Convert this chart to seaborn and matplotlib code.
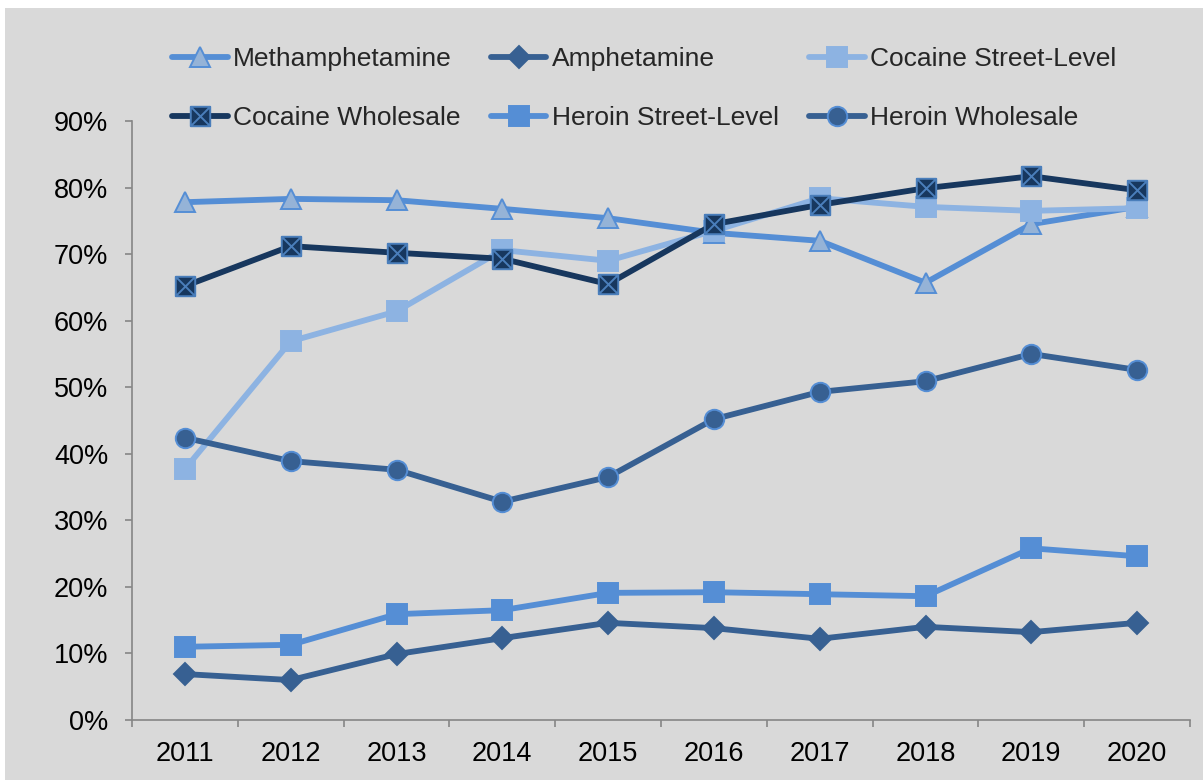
import numpy as np
import pandas as pd
import matplotlib
matplotlib.use("Agg")
import matplotlib.pyplot as plt
from matplotlib.path import Path
from matplotlib.patches import Rectangle
from matplotlib.ticker import FuncFormatter, FixedLocator
import seaborn as sns

# ---- data -------------------------------------------------------------
years = [2011, 2012, 2013, 2014, 2015, 2016, 2017, 2018, 2019, 2020]
methamphetamine = [77.8, 78.3, 78.1, 76.8, 75.4, 73.2, 72.0, 65.7, 74.5, 77.1]
amphetamine = [6.9, 6.0, 9.9, 12.3, 14.6, 13.8, 12.2, 14.0, 13.2, 14.6]
cocaine_street = [37.7, 56.9, 61.4, 70.6, 69.0, 73.5, 78.4, 77.1, 76.5, 76.9]
cocaine_wholesale = [65.2, 71.2, 70.2, 69.3, 65.5, 74.5, 77.4, 79.9, 81.7, 79.6]
heroin_street = [11.0, 11.3, 15.9, 16.5, 19.1, 19.2, 18.9, 18.6, 25.8, 24.6]
heroin_wholesale = [42.4, 38.9, 37.6, 32.8, 36.5, 45.2, 49.3, 50.9, 55.0, 52.6]
series_names = ["Methamphetamine", "Amphetamine", "Cocaine Street-Level",
                "Cocaine Wholesale", "Heroin Street-Level", "Heroin Wholesale"]
series_values = [methamphetamine, amphetamine, cocaine_street,
                 cocaine_wholesale, heroin_street, heroin_wholesale]
y_ticks = [0, 10, 20, 30, 40, 50, 60, 70, 80, 90]

df = pd.DataFrame({
    "year": np.tile(years, len(series_names)),
    "value": np.concatenate(series_values),
    "series": np.repeat(series_names, len(years)),
})

# square with an X through it
boxed_x = Path(
    [(-1, -1), (1, -1), (1, 1), (-1, 1), (-1, -1),
     (-1, -1), (1, 1), (-1, 1), (1, -1)],
    [Path.MOVETO, Path.LINETO, Path.LINETO, Path.LINETO, Path.CLOSEPOLY,
     Path.MOVETO, Path.LINETO, Path.MOVETO, Path.LINETO],
)

styles = {
    "Methamphetamine": dict(color="#558ed5", marker="^", mfc="#95b3d7", mec="#558ed5", ms=14.5),
    "Amphetamine": dict(color="#376092", marker="D", mfc="#376092", mec="#376092", ms=11),
    "Cocaine Street-Level": dict(color="#8db3e2", marker="s", mfc="#8db3e2", mec="#8db3e2", ms=14),
    "Cocaine Wholesale": dict(color="#17375e", marker=boxed_x, mfc="#17375e", mec="#4a7ebb", ms=14),
    "Heroin Street-Level": dict(color="#558ed5", marker="s", mfc="#558ed5", mec="#558ed5", ms=14),
    "Heroin Wholesale": dict(color="#376092", marker="o", mfc="#376092", mec="#558ed5", ms=14),
}

sns.set_theme(style="white")
plt.rcParams["font.family"] = ["Liberation Sans", "DejaVu Sans"]

FS = 19.5
LEG_FS = 19
W, H = 1203, 780
fig = plt.figure(figsize=(W / 100, H / 100), dpi=100, facecolor="white")
fig.patches.append(Rectangle((5 / W, 0), 1, 1 - 8 / H, transform=fig.transFigure,
                             facecolor="#d9d9d9", edgecolor="none", zorder=-10))

ax = fig.add_axes([132 / W, 60 / H, (1190 - 132) / W, (720 - 121) / H])
ax.set_facecolor("none")

for name in series_names:
    st = styles[name]
    sub = df[df["series"] == name]
    sns.lineplot(data=sub, x="year", y="value", ax=ax, color=st["color"],
                 linewidth=4.2, marker=st["marker"], markersize=st["ms"],
                 markerfacecolor=st["mfc"], markeredgecolor=st["mec"],
                 markeredgewidth=1.4, label=name, clip_on=False)

ax.set_xlim(years[0] - 0.5, years[-1] + 0.5)
ax.set_ylim(0, 90)
ax.set_xlabel("")
ax.set_ylabel("")

ax.set_yticks(y_ticks)
ax.yaxis.set_major_formatter(FuncFormatter(lambda v, p: f"{v:.0f}%"))
ax.set_xticks(years)
ax.set_xticklabels([str(y) for y in years])
ax.xaxis.set_minor_locator(FixedLocator([y - 0.5 for y in years] + [years[-1] + 0.5]))

spine_c = "#868686"
for s in ["top", "right"]:
    ax.spines[s].set_visible(False)
for s in ["left", "bottom"]:
    ax.spines[s].set_color(spine_c)
    ax.spines[s].set_linewidth(1.2)

ax.tick_params(axis="y", which="major", direction="out", length=5, width=1.2,
               color=spine_c, labelsize=FS, pad=12, labelcolor="black", left=True)
ax.tick_params(axis="x", which="major", length=0, labelsize=FS, pad=15,
               labelcolor="black", bottom=True)
ax.tick_params(axis="x", which="minor", direction="out", length=5, width=1.2,
               color=spine_c, bottom=True)

handles, labels = ax.get_legend_handles_labels()
ax.get_legend().remove()
# reorder so the legend reads across rows in series order
order = [0, 3, 1, 4, 2, 5]
leg = fig.legend([handles[i] for i in order], [labels[i] for i in order],
                 loc="upper left", bbox_to_anchor=(172 / W, 1 - 47 / H),
                 ncol=3, frameon=False, fontsize=LEG_FS, borderpad=0,
                 handlelength=2.12, handletextpad=0.19, columnspacing=1.14,
                 labelspacing=1.34, borderaxespad=0)

fig.savefig("out.png", dpi=100, facecolor="white")
